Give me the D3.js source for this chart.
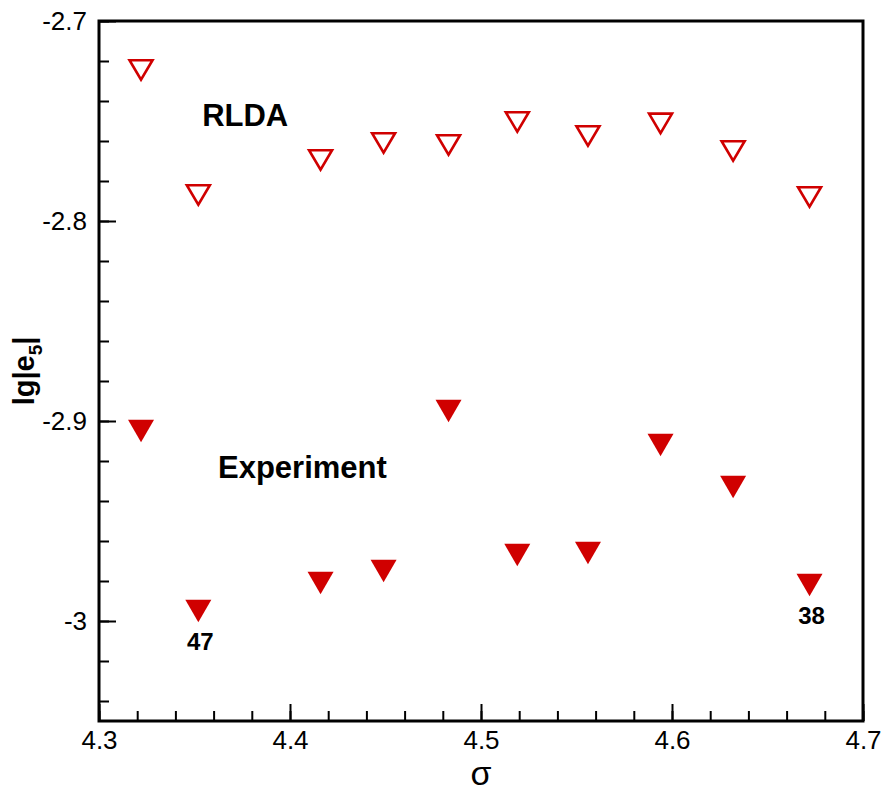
<!DOCTYPE html>
<html>
<head>
<meta charset="utf-8">
<script src="https://cdn.jsdelivr.net/npm/d3@7"></script>
<style>
  body { margin: 0; background: #fff; }
  svg { font-family: "Liberation Sans", Arial, sans-serif; }
</style>
</head>
<body>
<div class="chart"></div>
<script>
// sigma values (shared by both series)
const sigma = [4.322, 4.352, 4.416, 4.449, 4.483, 4.519, 4.556, 4.594, 4.632, 4.672];
const rlda = [-2.7245, -2.787, -2.7695, -2.761, -2.762, -2.7505, -2.7575, -2.7512, -2.765, -2.788];
const experiment = [-2.905, -2.995, -2.981, -2.975, -2.895, -2.967, -2.966, -2.912, -2.933, -2.982];

const xMajorTicks = [4.3, 4.4, 4.5, 4.6, 4.7];
const yMajorTicks = [-2.7, -2.8, -2.9, -3];
const yTickLabels = ["-2.7", "-2.8", "-2.9", "-3"];

// point annotations, anchored at data points
const pointNotes = [{text: "47", i: 1}, {text: "38", i: 9}];
const seriesNotes = [
  {text: "RLDA", x: 4.354, y: -2.7525},
  {text: "Experiment", x: 4.3623, y: -2.9285}
];

const svg_width = 885;
const svg_height = 791;
const margin = {top: 21, right: 22, bottom: 70, left: 99};
const chart_width = svg_width - margin.left - margin.right;
const chart_height = svg_height - margin.top - margin.bottom;
const red = "#d00000";

const svg = d3.select(".chart").append("svg")
  .attr("width", svg_width).attr("height", svg_height);
const g = svg.append("g").attr("transform", `translate(${margin.left},${margin.top})`);

const xScale = d3.scaleLinear([4.3, 4.7], [0, chart_width]);
const yScale = d3.scaleLinear([-3.05, -2.7], [chart_height, 0]);

const xMinor = d3.range(4.3, 4.7001, 0.02).map(v => +v.toFixed(2));
const yMinor = d3.range(-3.04, -2.6999, 0.02).map(v => +v.toFixed(2));

// minor ticks (inward)
g.append("g").attr("transform", `translate(0,${chart_height})`)
  .call(d3.axisBottom(xScale).tickValues(xMinor).tickSize(-10).tickFormat(""))
  .call(s => s.select(".domain").remove());
g.append("g")
  .call(d3.axisLeft(yScale).tickValues(yMinor).tickSize(-10).tickFormat(""))
  .call(s => s.select(".domain").remove());

// major ticks
const xAxisDraw = g.append("g").attr("transform", `translate(0,${chart_height})`)
  .call(d3.axisBottom(xScale).tickValues(xMajorTicks).tickSize(-17).tickPadding(10)
    .tickFormat(d3.format(".1f")))
  .call(s => s.select(".domain").remove());
const yAxisDraw = g.append("g")
  .call(d3.axisLeft(yScale).tickValues(yMajorTicks).tickSize(-17).tickPadding(12)
    .tickFormat((d, i) => yTickLabels[i]))
  .call(s => s.select(".domain").remove());

g.selectAll(".tick line").attr("stroke", "#000").attr("stroke-width", 2);
g.selectAll(".tick text").attr("fill", "#000").style("font-size", "26px");

// frame
g.append("rect")
  .attr("width", chart_width).attr("height", chart_height)
  .attr("fill", "none").attr("stroke", "#000").attr("stroke-width", 3);

// down triangle centered on its box
function downTri(w, h) {
  return `M${-w / 2},${-h / 2}L${w / 2},${-h / 2}L0,${h / 2}Z`;
}

g.selectAll(".rlda").data(sigma.map((s, i) => ({x: s, y: rlda[i]})))
  .join("path").attr("class", "rlda")
  .attr("transform", d => `translate(${xScale(d.x)},${yScale(d.y)})`)
  .attr("d", downTri(23, 19.5))
  .attr("fill", "none").attr("stroke", red).attr("stroke-width", 2.6)
  .attr("stroke-linejoin", "miter");

g.selectAll(".exp").data(sigma.map((s, i) => ({x: s, y: experiment[i]})))
  .join("path").attr("class", "exp")
  .attr("transform", d => `translate(${xScale(d.x)},${yScale(d.y)})`)
  .attr("d", downTri(26, 22.5))
  .attr("fill", red);

g.selectAll(".pnote").data(pointNotes).join("text").attr("class", "pnote")
  .attr("x", d => xScale(sigma[d.i]) + 2)
  .attr("y", d => yScale(experiment[d.i]) + 39)
  .attr("text-anchor", "middle")
  .style("font-size", "24px").style("font-weight", "bold")
  .text(d => d.text);

g.selectAll(".snote").data(seriesNotes).join("text").attr("class", "snote")
  .attr("x", d => xScale(d.x)).attr("y", d => yScale(d.y))
  .style("font-size", "31px").style("font-weight", "bold")
  .text(d => d.text);

// axis titles
svg.append("text")
  .attr("x", margin.left + chart_width / 2).attr("y", 785)
  .attr("text-anchor", "middle")
  .style("font-size", "34px")
  .text("σ");

const yTitle = svg.append("text")
  .attr("transform", `translate(34,${margin.top + chart_height / 2}) rotate(-90)`)
  .attr("text-anchor", "middle")
  .style("font-size", "29px").style("font-weight", "bold");
yTitle.append("tspan").text("lg|e");
yTitle.append("tspan").text("5").attr("dy", 8).style("font-size", "19px");
yTitle.append("tspan").text("|").attr("dy", -8);
</script>
</body>
</html>
